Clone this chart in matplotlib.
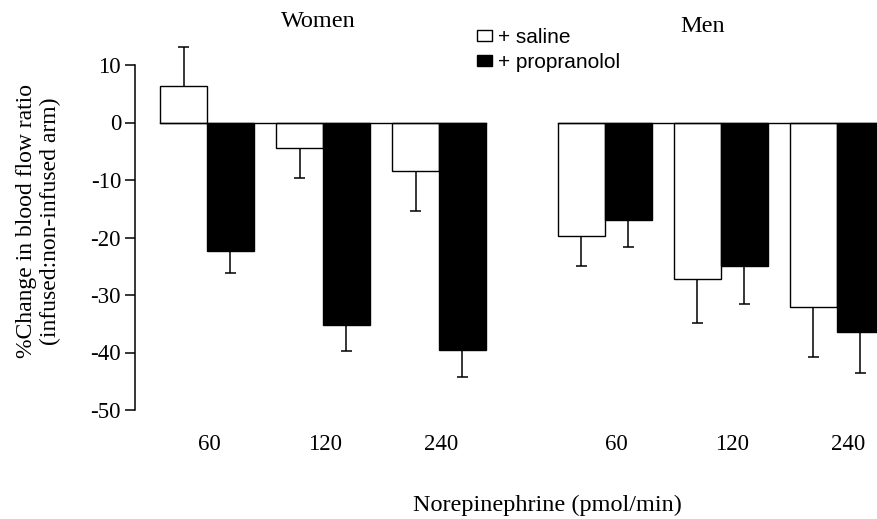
import numpy as np
import matplotlib.pyplot as plt
from matplotlib.patches import Patch

doses = ["60", "120", "240"]
women_saline = [6.3, -4.5, -8.5]
women_saline_err = [6.8, 5.2, 6.9]
women_prop = [-22.4, -35.2, -39.5]
women_prop_err = [3.8, 4.5, 4.8]
men_saline = [-19.8, -27.3, -32.1]
men_saline_err = [5.2, 7.6, 8.6]
men_prop = [-16.9, -24.9, -36.4]
men_prop_err = [4.7, 6.7, 7.2]

serif = "Liberation Serif"
sans = "Liberation Sans"

fig = plt.figure(figsize = (8.77, 5.19), dpi = 100)
ax = fig.add_axes([135/877, 1 - 410/519, 1 - 135/877, (410 - 65)/519])

w = 0.405
cap = 0.045
women_x = np.arange(3)
men_x = np.arange(3) + 3.43

def err_bar(x, vals, errs):
    # one-sided error bar, away from zero, cap only at the tip
    vals = np.array(vals); errs = np.array(errs)
    tips = vals + np.sign(vals)*errs
    ax.vlines(x, vals, tips, color = "black", linewidth = 1.1, zorder = 1, clip_on = False)
    ax.hlines(tips, x - cap, x + cap, color = "black", linewidth = 1.1, zorder = 1, clip_on = False)

for xc, sal, sal_e, prop, prop_e in [(women_x, women_saline, women_saline_err, women_prop, women_prop_err),
                                      (men_x, men_saline, men_saline_err, men_prop, men_prop_err)]:
    ax.bar(xc - w/2, sal, w, color = "white", edgecolor = "black", linewidth = 1.0, zorder = 2)
    ax.bar(xc + w/2, prop, w, color = "black", edgecolor = "black", linewidth = 1.0, zorder = 2)
    err_bar(xc - w/2, sal, sal_e)
    err_bar(xc + w/2, prop, prop_e)
    ax.plot([xc[0] - w, xc[-1] + w], [0, 0], color = "black", linewidth = 1.0, zorder = 3)

ax.set_xlim((135 - 207)/116, (877 - 207)/116)
ax.set_ylim(-50, 10)
ax.set_yticks(np.arange(-50, 11, 10))
ax.set_yticklabels([str(v) for v in range(-50, 11, 10)], fontfamily = serif, fontsize = 16.5)
ax.set_xticks(list(women_x + 0.02) + list(men_x + 0.1))
ax.set_xticklabels(doses + doses, fontfamily = serif, fontsize = 16.5)
ax.tick_params(axis = "x", length = 0, pad = 17)
ax.tick_params(axis = "y", direction = "out", length = 7, width = 1.1, pad = 3)
for s in ["top", "right", "bottom"]:
    ax.spines[s].set_visible(False)
ax.spines["left"].set_linewidth(1.1)

fig.text(318/877, 1 - 22/519, "Women", fontfamily = serif, fontsize = 17.5, ha = "center", va = "center")
fig.text(703/877, 1 - 27/519, "Men", fontfamily = serif, fontsize = 17.5, ha = "center", va = "center")
fig.text(547/877, 1 - 505/519, "Norepinephrine (pmol/min)", fontfamily = serif, fontsize = 17.5,
         ha = "center", va = "center")
fig.text(27/877, 1 - 221/519, "%Change in blood flow ratio", fontfamily = serif, fontsize = 17,
         rotation = 90, ha = "center", va = "center")
fig.text(50/877, 1 - 221/519, "(infused:non-infused arm)", fontfamily = serif, fontsize = 17,
         rotation = 90, ha = "center", va = "center")

handles = [Patch(facecolor = "white", edgecolor = "black", linewidth = 1.0),
           Patch(facecolor = "black", edgecolor = "black", linewidth = 1.0)]
fig.legend(handles, ["+ saline", "+ propranolol"], loc = "upper left",
           bbox_to_anchor = (477/877, 1 - 28/519), frameon = False,
           prop = {"family": sans, "size": 15}, handlelength = 0.7, handleheight = 0.45,
           handletextpad = 0.3, labelspacing = 0.3, borderpad = 0, borderaxespad = 0)

fig.savefig("out.png", dpi = 100)
